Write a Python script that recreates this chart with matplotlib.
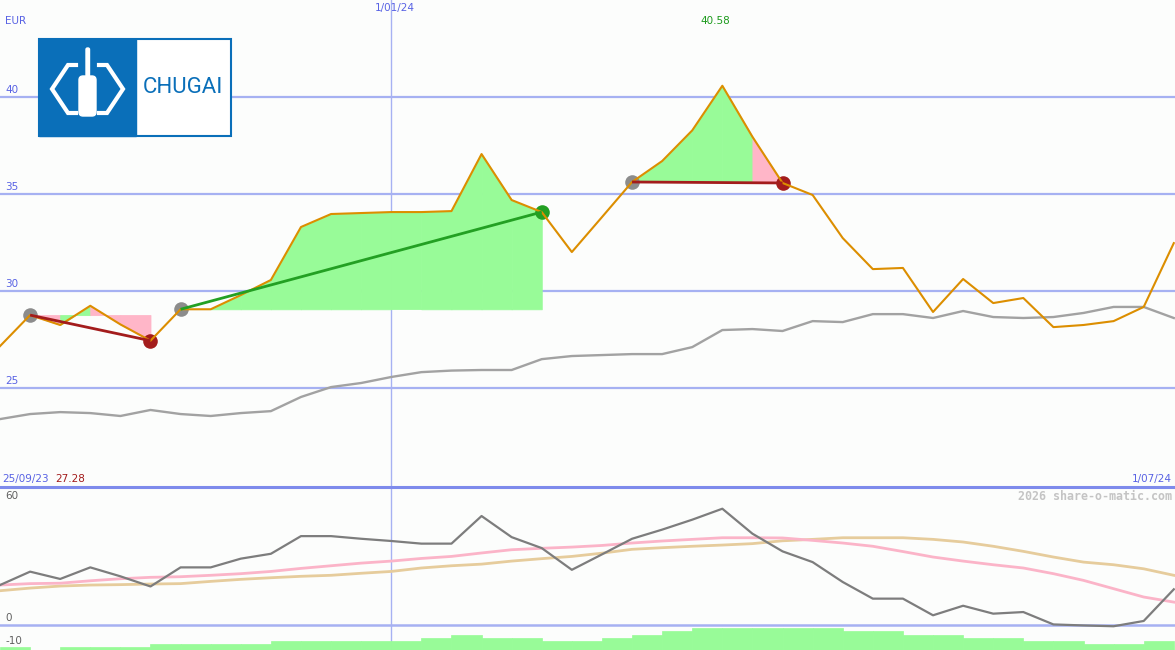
import matplotlib
matplotlib.use("Agg")
import matplotlib.pyplot as plt
from matplotlib.patches import Rectangle, FancyBboxPatch
import numpy as np
import pandas as pd

# ---------------- data ----------------
dates = pd.date_range("2023-10-02", "2024-07-01", freq="7D")  # weekly points
price = [27.16, 28.76, 28.25, 29.24, 28.28, 27.44, 29.06, 29.06, 29.79, 30.57,
         33.30, 33.97, 34.02, 34.07, 34.07, 34.12, 37.06, 34.69, 34.07, 32.01,
         33.81, 35.62, 36.70, 38.28, 40.58, 37.95, 35.57, 34.95, 32.73, 31.13,
         31.19, 28.92, 30.62, 29.38, 29.64, 28.14, 28.25, 28.45, 29.18, 32.47]
avg_price = [23.40, 23.66, 23.76, 23.71, 23.56, 23.87, 23.66, 23.56, 23.71, 23.81,
             24.54, 25.05, 25.26, 25.57, 25.82, 25.90, 25.93, 25.93, 26.49, 26.65,
             26.70, 26.75, 26.75, 27.11, 27.99, 28.04, 27.94, 28.45, 28.40, 28.81,
             28.81, 28.61, 28.97, 28.66, 28.61, 28.66, 28.87, 29.18, 29.18, 28.61]
osc = [19.7, 26.3, 22.7, 28.4, 24.0, 19.0, 28.4, 28.4, 32.7, 35.1,
       43.8, 43.8, 42.5, 41.4, 40.1, 40.1, 53.7, 43.3, 37.9, 27.2,
       34.8, 42.5, 47.0, 51.9, 57.3, 45.0, 36.3, 31.0, 21.2, 13.0,
       13.0, 4.8, 9.5, 5.6, 6.4, 0.3, -0.2, -0.6, 2.0, 17.6]
osc_fast = [19.7, 20.4, 20.6, 21.8, 22.8, 23.5, 23.8, 24.5, 25.3, 26.4,
            27.9, 29.2, 30.5, 31.5, 32.8, 33.8, 35.5, 37.1, 37.8, 38.4,
            39.2, 40.4, 41.4, 42.2, 43.0, 43.0, 42.9, 41.7, 40.4, 38.8,
            36.2, 33.5, 31.5, 29.7, 28.1, 25.3, 22.0, 17.9, 13.8, 11.3]
osc_slow = [16.9, 18.2, 19.2, 19.7, 19.9, 20.2, 20.4, 21.5, 22.5, 23.3,
            24.0, 24.5, 25.5, 26.4, 28.1, 29.2, 30.0, 31.5, 32.7, 33.8,
            35.4, 37.3, 38.1, 38.8, 39.4, 40.1, 41.5, 42.2, 43.0, 43.0,
            43.0, 42.2, 40.9, 38.8, 36.3, 33.5, 31.0, 29.7, 27.7, 24.5]
volume = [1.0, 0.0, 1.0, 1.0, 1.0, 2.0, 2.0, 2.0, 2.0, 2.9,
          2.9, 2.9, 2.9, 2.9, 3.9, 4.9, 3.9, 3.9, 2.9, 2.9,
          3.9, 4.9, 6.1, 7.1, 7.1, 7.1, 7.1, 7.1, 6.1, 6.1,
          4.9, 4.9, 3.9, 3.9, 2.9, 2.9, 2.0, 2.0, 2.9]
trade_entries = [1, 6, 21]
trade_exits = [5, 18, 26]
price_levels = [25, 30, 35, 40]
price_level_labels = ["25", "30", "35", "40"]
osc_labels = ["60", "0", "-10"]
marker_date = pd.Timestamp("2024-01-01")
start_label, start_value = "25/09/23", "27.28"
end_label = "1/07/24"
max_label = "40.58"

# ---------------- style ----------------
BG = "#fcfdfc"
GRID = "#a6b1f2"
BORDER = "#7e8bec"
TXT_BLUE = "#5862e4"
ORANGE = "#dc8e00"
GREEN_FILL = "#98fb98"
PINK_FILL = "#ffb6c8"
RED = "#a31c1c"
GREEN = "#23a023"
GRAY_M = "#8c8c8c"

W, H = 1175, 650
fig = plt.figure(figsize=(W / 100, H / 100), dpi=100, facecolor=BG)

x = np.arange(len(price))
xmax = 39.04
vline_x = dates.get_loc(marker_date)

# main price panel
ax = fig.add_axes([0, 163 / H, 1, 487 / H])
ax.set_xlim(0, xmax)
ax.set_ylim(19.9, 45.0)
ax.set_axis_off()
for lv in price_levels:
    ax.axhline(lv, color=GRID, lw=1.6, zorder=1)
ax.axvline(vline_x, color=GRID, lw=1.0, zorder=1)

# trade fills (per segment, colour by the segment's end relative to entry)
for e, s in zip(trade_entries, trade_exits):
    ep = price[e]
    for i in range(e, s):
        col = GREEN_FILL if price[i + 1] >= ep else PINK_FILL
        ax.fill_between([i, i + 1], [price[i], price[i + 1]], ep,
                        facecolor=col, edgecolor=col, lw=0.6, zorder=2)

ax.plot(x, avg_price, color="#a2a2a2", lw=1.7, zorder=3)

for e, s in zip(trade_entries, trade_exits):
    col = GREEN if price[s] > price[e] else RED
    ax.plot([e], [price[e]], "o", ms=10.5, color=GRAY_M, mec="none", zorder=4)
    ax.plot([s], [price[s]], "o", ms=10.5, color=col, mec="none", zorder=4)

ax.plot(x, price, color=ORANGE, lw=1.5, zorder=5)

for e, s in zip(trade_entries, trade_exits):
    col = GREEN if price[s] > price[e] else RED
    ax.plot([e, s], [price[e], price[s]], color=col, lw=2.0, zorder=6,
            solid_capstyle="butt")

# lower indicator panel
ax2 = fig.add_axes([0, 0, 1, 163 / H])
ax2.set_xlim(0, xmax)
ax2.set_ylim(-12.3, 68.0)
ax2.set_axis_off()
ax2.axhline(0, color=GRID, lw=1.8, zorder=1)
ax2.axvline(vline_x, color=GRID, lw=1.0, zorder=1)
ax2.plot(x, osc_slow, color="#e6cc9c", lw=2.0, zorder=3)
ax2.plot(x, osc_fast, color="#fbb4c8", lw=2.0, zorder=3)
ax2.plot(x, osc, color="#7d7d7d", lw=1.6, zorder=4)

axv = ax2.twinx()
axv.set_xlim(0, xmax)
axv.set_ylim(0, 163 / 3.1)
axv.set_axis_off()
axv.bar(x[:-1], volume, width=1.0, align="edge", color=GREEN_FILL,
        edgecolor=GREEN_FILL, lw=0.5, zorder=5)

# overlay in pixel coordinates
ov = fig.add_axes([0, 0, 1, 1])
ov.set_xlim(0, W)
ov.set_ylim(H, 0)
ov.set_axis_off()
ov.patch.set_alpha(0)
ov.plot([0, W], [487, 487], color=BORDER, lw=2.2)

fs = 7.5
ov.text(5, 21, "EUR", color=TXT_BLUE, fontsize=fs, va="center", ha="left")
for lv, lab in zip(price_levels, price_level_labels):
    py = 291 - (lv - 30) * 19.4 - 7
    ov.text(5, py, lab, color=TXT_BLUE, fontsize=fs, va="center", ha="left")
ov.text(395, 8, "1/01/24", color=TXT_BLUE, fontsize=fs, va="center", ha="center")
ov.text(715, 21, max_label, color="#1c9a1c", fontsize=fs, va="center", ha="center")
ov.text(2, 479, start_label, color=TXT_BLUE, fontsize=fs, va="center", ha="left")
ov.text(55, 479, start_value, color=RED, fontsize=fs, va="center", ha="left")
ov.text(1172, 479, end_label, color=TXT_BLUE, fontsize=fs, va="center", ha="right")
for lab, py in zip(osc_labels, [496, 618, 641]):
    ov.text(5, py, lab, color="#606060", fontsize=fs, va="center", ha="left")
ov.text(1172, 496, "2026 share-o-matic.com", color="#c4c4c4", fontsize=8.4,
        family="DejaVu Sans Mono", fontweight="bold", va="center", ha="right")

# logo
LB = "#0a6fb9"
ov.add_patch(Rectangle((38.5, 38.5), 192.5, 97, facecolor="white",
                       edgecolor=LB, lw=1.5, zorder=10))
ov.add_patch(Rectangle((38.5, 38.5), 97, 97, facecolor=LB, edgecolor=LB,
                       lw=1.0, zorder=11))
ov.plot([76, 68, 52, 68, 76], [65, 65, 89, 113, 113], color="white", lw=3,
        zorder=12, solid_joinstyle="miter")
ov.plot([99, 107, 123, 107, 99], [65, 65, 89, 113, 113], color="white", lw=3,
        zorder=12, solid_joinstyle="miter")
ov.add_patch(FancyBboxPatch((79, 76), 17, 40, boxstyle="round,pad=0,rounding_size=4",
                            facecolor="white", edgecolor="white", lw=1, zorder=12))
ov.add_patch(FancyBboxPatch((86, 48), 3.5, 30, boxstyle="round,pad=0,rounding_size=1.5",
                            facecolor="white", edgecolor="white", lw=1, zorder=12))
ov.text(182.5, 87.5, "CHUGAI", color=LB, fontsize=16, family="Roboto",
        va="center", ha="center", zorder=13)

fig.savefig("out.png", dpi=100, facecolor=BG)
